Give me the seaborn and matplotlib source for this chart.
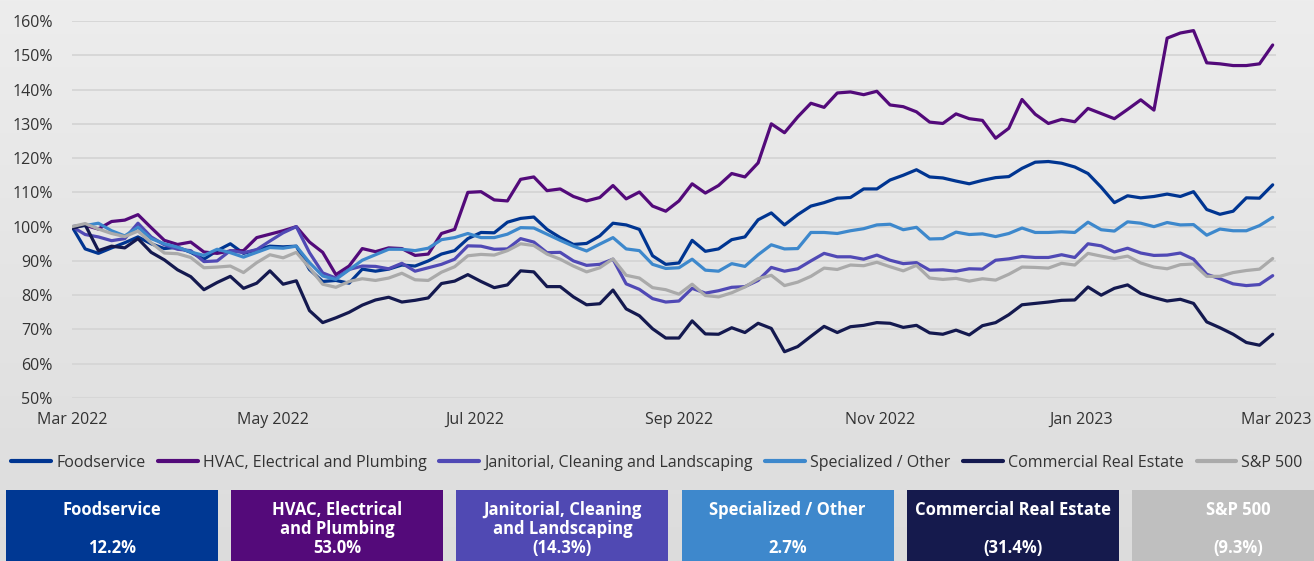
import seaborn as sns
import matplotlib.pyplot as plt
import matplotlib.dates as mdates
from matplotlib.patches import Rectangle
import pandas as pd
import numpy as np

# values, one point every 4 days from 1 Mar 2022 (index, start = 100%)
start_date = '2022-03-01'
n_points = 92

foodservice = [100, 93.5, 92.2, 93.8, 95.3, 97, 95, 93.6, 94, 92.5,
               90.5, 93, 95, 92.2, 93.2, 94.3, 94.1, 94.3, 87.5, 84,
               84.3, 83.5, 87.6, 87, 87.6, 88.8, 88.5, 90, 92, 93,
               96.5, 98.3, 98.2, 101.3, 102.4, 102.8, 99.2, 96.8, 94.8, 95.1,
               97.3, 101, 100.5, 99.2, 91.5, 89, 89.4, 96, 92.8, 93.5,
               96.2, 97, 102, 104, 100.5, 103.5, 106, 107, 108.3, 108.5,
               111, 111, 113.6, 115, 116.6, 114.5, 114.2, 113.3, 112.5, 113.5,
               114.3, 114.6, 117, 118.8, 119, 118.5, 117.4, 115.5, 111.5, 107,
               109, 108.4, 108.8, 109.5, 108.8, 110.2, 105, 103.6, 104.5, 108.4,
               108.3, 112.2]

hvac = [100, 100.4, 99.3, 101.5, 101.9, 103.5, 99.7, 96, 94.8, 95.5,
        92.6, 92.2, 92.9, 93, 96.8, 97.8, 98.8, 100, 95.5, 92.5,
        86, 88.5, 93.6, 92.7, 93.8, 93.6, 91.6, 92, 98, 99.2,
        110, 110.2, 107.8, 107.5, 113.8, 114.5, 110.5, 111, 108.8, 107.5,
        108.5, 112, 108.1, 110.1, 106, 104.5, 107.5, 112.5, 109.8, 112,
        115.5, 114.5, 118.6, 130, 127.4, 132, 136, 134.8, 139, 139.3,
        138.5, 139.5, 135.5, 135, 133.5, 130.5, 130.1, 132.9, 131.5, 131,
        125.8, 128.7, 137.1, 132.8, 130.1, 131.3, 130.6, 134.5, 133, 131.5,
        134.2, 137, 134, 155, 156.5, 157.2, 147.8, 147.5, 147, 147,
        147.5, 153]

janitorial = [100, 97.7, 97, 95.9, 96.5, 101, 97, 94.7, 93.4, 93,
              89.8, 90, 93, 92.4, 93.3, 95.8, 98.2, 100, 92.4, 86.5,
              85, 87.5, 88.5, 88.4, 87.7, 89.3, 87, 88, 89, 90.5,
              94.4, 94.3, 93.4, 93.5, 96.5, 95.5, 92.4, 92.5, 90, 88.7,
              89, 90.5, 83.3, 81.7, 79, 78, 78.3, 82, 80.6, 81.3,
              82.3, 82.5, 84.3, 88.1, 87, 87.7, 90, 92.2, 91.2, 91.2,
              90.5, 91.7, 90.2, 89.2, 89.5, 87.3, 87.4, 87, 87.7, 87.6,
              90.2, 90.6, 91.3, 91, 91, 91.8, 91, 95, 94.4, 92.6,
              93.7, 92.3, 91.6, 91.7, 92.3, 90.5, 86.1, 84.8, 83.3, 82.8,
              83.1, 85.7]

specialized = [100, 100.3, 101, 98.8, 97.3, 99.8, 96.5, 95, 94, 92.6,
               91.6, 93.4, 92.4, 91.1, 92.5, 93.9, 93.7, 94.3, 89.5, 85.6,
               84.6, 87.4, 90.2, 91.8, 93.4, 93.4, 93, 93.7, 96.2, 96.8,
               98, 96.8, 96.8, 97.8, 99.7, 99.6, 97.8, 96, 94.3, 92.9,
               94.9, 96.8, 93.5, 93, 89, 87.8, 88, 90.5, 87.3, 87,
               89.2, 88.4, 91.8, 94.7, 93.5, 93.6, 98.3, 98.3, 98, 98.8,
               99.4, 100.5, 100.7, 99.1, 99.8, 96.4, 96.5, 98.4, 97.7, 97.9,
               97.1, 98, 99.6, 98.3, 98.3, 98.5, 98.3, 101.3, 99.1, 98.7,
               101.4, 101, 100, 101.2, 100.5, 100.6, 97.5, 99.3, 98.8, 98.8,
               100.3, 102.7]

commercial_re = [99.5, 100.5, 93, 94.3, 93.8, 96.5, 92.5, 90.3, 87.4, 85.4,
                 81.6, 83.7, 85.5, 82, 83.5, 87.1, 83.2, 84.2, 75.5, 72,
                 73.4, 75, 77.1, 78.6, 79.4, 78, 78.5, 79.2, 83.4, 84.1,
                 86, 84, 82.2, 83, 87.1, 86.8, 82.5, 82.5, 79.5, 77.2,
                 77.5, 81.5, 76, 74, 70.2, 67.5, 67.5, 72.5, 68.7, 68.6,
                 70.5, 69.1, 71.8, 70.3, 63.5, 65, 68, 70.9, 69.1, 70.8,
                 71.2, 72, 71.8, 70.6, 71.2, 69, 68.6, 69.8, 68.4, 71.1,
                 72, 74.3, 77.2, 77.6, 78, 78.5, 78.6, 82.4, 80, 82,
                 83, 80.5, 79.3, 78.3, 78.8, 77.6, 72.2, 70.5, 68.6, 66.2,
                 65.4, 68.6]

sp500 = [100, 100.9, 99.3, 98, 97.1, 98.7, 95.3, 92.3, 92.1, 91,
         88, 88.2, 88.5, 86.6, 89.5, 91.8, 90.9, 92.5, 88, 83.2,
         82.3, 84, 84.8, 84.3, 85, 86.4, 84.5, 84.3, 86.7, 88.3,
         91.5, 91.9, 91.7, 93, 95, 94.5, 92, 90.5, 88.5, 86.8,
         88, 90.6, 85.8, 85, 82.2, 81.6, 80.3, 83.2, 79.9, 79.5,
         80.7, 82.4, 84.8, 85.8, 82.8, 83.8, 85.5, 87.9, 87.5, 88.8,
         88.6, 89.6, 88.3, 87.1, 88.7, 85, 84.6, 84.9, 84.1, 84.8,
         84.4, 86.1, 88.2, 88.1, 87.9, 89.3, 88.8, 92.2, 91.4, 90.7,
         91.4, 89.4, 88.2, 87.7, 88.9, 89.1, 85.5, 85.5, 86.6, 87.2,
         87.6, 90.7]

series_names = ['Foodservice', 'HVAC, Electrical and Plumbing',
                'Janitorial, Cleaning and Landscaping', 'Specialized / Other',
                'Commercial Real Estate', 'S&P 500']
series_values = [foodservice, hvac, janitorial, specialized, commercial_re, sp500]
line_colors = ['#003591', '#530a7a', '#5049b5', '#3d88cc', '#14194f', '#aaaaaa']
box_colors = ['#003893', '#540a7a', '#5049b3', '#3e88cc', '#151a4d', '#bfbfbf']
box_titles = ['Foodservice', 'HVAC, Electrical\nand Plumbing',
              'Janitorial, Cleaning\nand Landscaping', 'Specialized / Other',
              'Commercial Real Estate', 'S&P 500']
box_values = ['12.2%', '53.0%', '(14.3%)', '2.7%', '(31.4%)', '(9.3%)']
y_ticks = [50, 60, 70, 80, 90, 100, 110, 120, 130, 140, 150, 160]

dates = pd.date_range(start_date, periods=n_points, freq='4D')
frames = []
for name, vals in zip(series_names, series_values):
    frames.append(pd.DataFrame({'date': dates, 'value': vals, 'series': name}))
df = pd.concat(frames, ignore_index=True)

sns.set_theme(style='white')
plt.rcParams['font.family'] = ['Open Sans', 'DejaVu Sans']
text_col = '#333333'

W, H = 1314, 561
fig = plt.figure(figsize=(W / 100, H / 100), dpi=100)

# background gradient
bg = fig.add_axes([0, 0, 1, 1], zorder=-10)
grad = np.linspace(0, 1, 256).reshape(-1, 1)
bg.imshow(grad, aspect='auto', cmap=sns.blend_palette(['#ededed', '#dcdcdc'], as_cmap=True),
          extent=[0, 1, 0, 1])
bg.axis('off')

ax = fig.add_axes([72 / W, 1 - 398 / H, 1204 / W, 377 / H])
ax.set_facecolor('none')
sns.lineplot(data=df, x='date', y='value', hue='series', hue_order=series_names,
             palette=dict(zip(series_names, line_colors)), linewidth=2.3, ax=ax)

ax.set_ylim(50, 160)
ax.set_yticks(y_ticks)
ax.set_yticklabels([f'{t}%' for t in y_ticks])
ax.set_xlim(pd.Timestamp('2022-03-01'), pd.Timestamp('2023-03-01'))
ax.xaxis.set_major_locator(mdates.MonthLocator(bymonth=[1, 3, 5, 7, 9, 11]))
ax.xaxis.set_major_formatter(mdates.DateFormatter('%b %Y'))
ax.grid(axis='y', color='#d5d5d5', linewidth=1.3)
ax.set_axisbelow(True)
for s in ax.spines.values():
    s.set_visible(False)
ax.tick_params(axis='both', length=0, labelsize=11.5, labelcolor=text_col)
ax.tick_params(axis='y', pad=14)
ax.tick_params(axis='x', pad=10)
ax.set_xlabel('')
ax.set_ylabel('')

handles, labels = ax.get_legend_handles_labels()
ax.get_legend().remove()
for h in handles:
    h.set_linewidth(3)
fig.legend(handles, labels, loc='center', bbox_to_anchor=(0.5, 1 - 463 / H), ncol=6,
           frameon=False, fontsize=11.5, handlelength=2.5, handletextpad=0.3,
           columnspacing=0.8, labelcolor=text_col)

# summary boxes
for i, (title, val, col) in enumerate(zip(box_titles, box_values, box_colors)):
    x0 = 6 + 225.2 * i
    fig.patches.append(Rectangle((x0 / W, 0), 212 / W, 71 / H, transform=fig.transFigure,
                                 facecolor=col, edgecolor='none'))
    cx = (x0 + 106) / W
    ty = 519.5 if '\n' in title else 510
    fig.text(cx, 1 - ty / H, title, ha='center', va='center', color='white',
             fontsize=12, fontweight='bold', linespacing=1.05)
    fig.text(cx, 1 - 548 / H, val, ha='center', va='center', color='white',
             fontsize=12, fontweight='bold')

plt.savefig('out.png', dpi=100)
